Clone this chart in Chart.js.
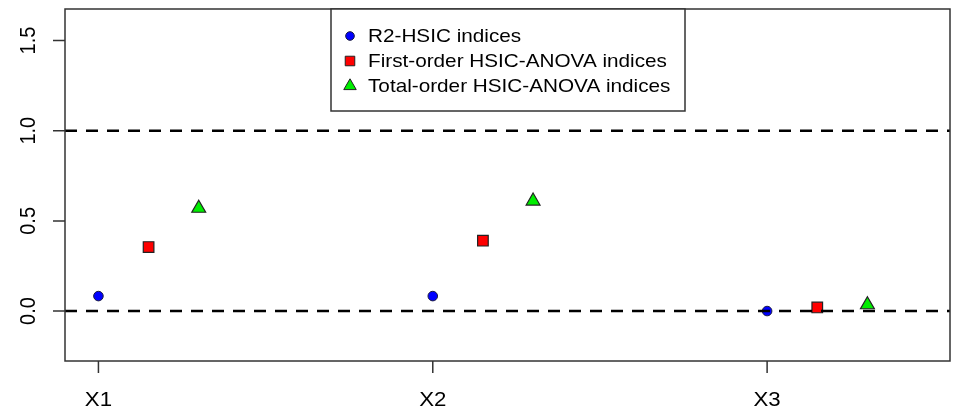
<!DOCTYPE html>
<html>
<head>
<meta charset="utf-8">
<script src="https://cdn.jsdelivr.net/npm/chart.js@4"></script>
<style>
  body { margin: 0; background: #fff; }
  #wrap { width: 954px; height: 411px; }
</style>
</head>
<body>
<div id="wrap"><canvas id="myChart" width="954" height="411"></canvas></div>
<script>
// data
const categories = ['X1', 'X2', 'X3'];
const r2Hsic = [0.083, 0.083, 0.0];
const firstOrder = [0.355, 0.39, 0.02];
const totalOrder = [0.57, 0.61, 0.035];
const yTicks = [0.0, 0.5, 1.0, 1.5];
const refLines = [0, 1];
const legendLabels = ['R2-HSIC indices', 'First-order HSIC-ANOVA indices', 'Total-order HSIC-ANOVA indices'];

function pts(values, shift) {
  return values.map(function(v, i) { return { x: i + 1 + shift, y: v }; });
}

const FONT = '"Liberation Sans", Arial, sans-serif';

// draws text stretched sideways a bit, like the reference
function stretchText(ctx, txt, x, y, size, sx, align) {
  ctx.save();
  ctx.font = size + 'px ' + FONT;
  ctx.fillStyle = '#000';
  ctx.textBaseline = 'middle';
  ctx.textAlign = align || 'center';
  ctx.translate(x, y);
  ctx.scale(sx, 1);
  ctx.fillText(txt, 0, 0);
  ctx.restore();
}

const rPlot = {
  id: 'rPlot',
  afterDatasetsDraw: function(chart) {
    const ctx = chart.ctx;
    const a = chart.chartArea;
    const xs = chart.scales.x, ys = chart.scales.y;

    // dashed reference lines
    ctx.save();
    ctx.strokeStyle = '#000';
    ctx.lineWidth = 2.6;
    ctx.setLineDash([12, 9]);
    refLines.forEach(function(v) {
      const py = ys.getPixelForValue(v);
      ctx.beginPath();
      ctx.moveTo(a.left, py);
      ctx.lineTo(a.right, py);
      ctx.stroke();
    });
    ctx.restore();

    // box + ticks
    ctx.save();
    ctx.strokeStyle = '#333';
    ctx.lineWidth = 1.5;
    ctx.strokeRect(a.left, a.top, a.right - a.left, a.bottom - a.top);
    ctx.beginPath();
    yTicks.forEach(function(v) {
      const py = ys.getPixelForValue(v);
      ctx.moveTo(a.left - 12, py);
      ctx.lineTo(a.left, py);
    });
    categories.forEach(function(c, i) {
      const px = xs.getPixelForValue(i + 1);
      ctx.moveTo(px, a.bottom);
      ctx.lineTo(px, a.bottom + 12);
    });
    ctx.stroke();
    ctx.restore();

    // y labels, rotated
    yTicks.forEach(function(v) {
      const py = ys.getPixelForValue(v);
      ctx.save();
      ctx.font = '20px ' + FONT;
      ctx.fillStyle = '#000';
      ctx.textAlign = 'center';
      ctx.textBaseline = 'middle';
      ctx.translate(29, py);
      ctx.scale(1.12, 1);
      ctx.rotate(-Math.PI / 2);
      ctx.fillText(v.toFixed(1), 0, 0);
      ctx.restore();
    });

    // x labels
    categories.forEach(function(c, i) {
      stretchText(ctx, c, xs.getPixelForValue(i + 1), 400, 21, 1.06, 'center');
    });

    // legend
    const lx = 331, ly = a.top, lw = 354, lh = 102;
    ctx.save();
    ctx.fillStyle = '#fff';
    ctx.fillRect(lx, ly, lw, lh);
    ctx.strokeStyle = '#333';
    ctx.lineWidth = 1.5;
    ctx.strokeRect(lx, ly, lw, lh);
    ctx.restore();
    const rowY = [36, 61, 86];
    chart.data.datasets.forEach(function(ds, i) {
      ctx.save();
      ctx.fillStyle = ds.backgroundColor;
      ctx.strokeStyle = ds.borderColor;
      ctx.lineWidth = 1;
      Chart.helpers.drawPoint(ctx, { pointStyle: ds.pointStyle, radius: ds.pointRadius * 0.9, rotation: 0, borderWidth: 1 }, 350, rowY[i]);
      ctx.restore();
      stretchText(ctx, legendLabels[i], 368, rowY[i] + 1, 18.5, 1.12, 'left');
    });
  }
};

const ctx = document.getElementById('myChart').getContext('2d');
const chart = new Chart(ctx, {
  type: 'scatter',
  data: {
    datasets: [{
      label: legendLabels[0],
      data: pts(r2Hsic, 0),
      pointStyle: 'circle',
      pointRadius: 4.8,
      backgroundColor: '#0000ff',
      borderColor: '#1a1a40',
      borderWidth: 1
    },
    {
      label: legendLabels[1],
      data: pts(firstOrder, 0.15),
      pointStyle: 'rect',
      pointRadius: 7.5,
      backgroundColor: '#ff0000',
      borderColor: '#222',
      borderWidth: 1.2
    },
    {
      label: legendLabels[2],
      data: pts(totalOrder, 0.3),
      pointStyle: 'triangle',
      pointRadius: 8,
      backgroundColor: '#00ee00',
      borderColor: '#222',
      borderWidth: 1.2
    }]
  },
  options: {
    responsive: false,
    animation: false,
    layout: { autoPadding: false, padding: { left: 65, top: 9, right: 4, bottom: 50 } },
    plugins: {
      legend: { display: false },
      tooltip: { enabled: false }
    },
    scales: {
      x: { type: 'linear', min: 0.9, max: 3.547, display: false },
      y: { type: 'linear', min: -0.277, max: 1.675, display: false }
    }
  },
  plugins: [rPlot]
});
</script>
</body>
</html>
